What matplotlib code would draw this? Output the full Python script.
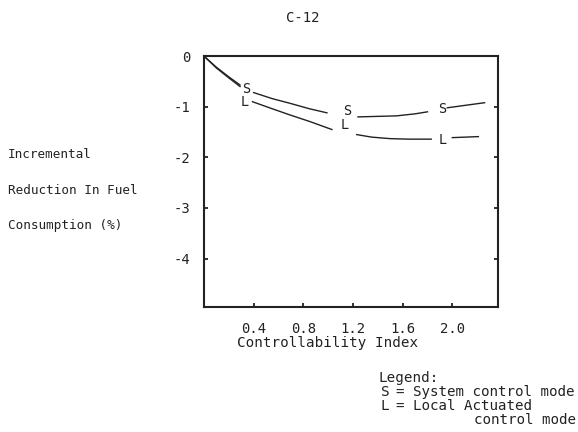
import numpy as np
import matplotlib
matplotlib.use("Agg")
import matplotlib.pyplot as plt

# curve pieces, NaN splits the line where a letter sits
s_x = [0, 0.1, 0.2, 0.29, np.nan,
       0.40, 0.55, 0.69, 0.85, 0.99, np.nan,
       1.24, 1.40, 1.55, 1.70, 1.80, np.nan,
       1.96, 2.26]
s_y = [0, -0.22, -0.41, -0.57, np.nan,
       -0.72, -0.84, -0.93, -1.04, -1.12, np.nan,
       -1.20, -1.19, -1.18, -1.14, -1.10, np.nan,
       -1.02, -0.92]

l_x = [0, 0.1, 0.2, 0.29, np.nan,
       0.39, 0.55, 0.69, 0.85, 1.03, np.nan,
       1.23, 1.35, 1.50, 1.65, 1.83, np.nan,
       2.00, 2.21]
l_y = [0, -0.235, -0.43, -0.60, np.nan,
       -0.90, -1.04, -1.16, -1.29, -1.45, np.nan,
       -1.55, -1.60, -1.63, -1.64, -1.64, np.nan,
       -1.61, -1.59]

# where the S / L letters are written on the curves
s_lab_x = [0.34, 1.15, 1.92]
s_lab_y = [-0.65, -1.08, -1.04]
l_lab_x = [0.33, 1.13, 1.92]
l_lab_y = [-0.91, -1.36, -1.65]

xticks = [0.4, 0.8, 1.2, 1.6, 2.0]
xticklabels = ["0.4", "0.8", "1.2", "1.6", "2.0"]
yticks = [0, -1, -2, -3, -4]
yticklabels = ["0", "-1", "-2", "-3", "-4"]

ink = "#222222"
plt.rcParams["font.family"] = ["DejaVu Sans Mono"]

fig = plt.figure(figsize=(5.78, 4.32), dpi=100)
ax = fig.add_axes([0.353, 0.289, 0.509, 0.581])

ax.plot(s_x, s_y, color=ink, lw=1.0)
ax.plot(l_x, l_y, color=ink, lw=1.0)
for x, y in zip(s_lab_x, s_lab_y):
    ax.text(x, y, "S", ha="center", va="center", fontsize=9.8, color=ink)
for x, y in zip(l_lab_x, l_lab_y):
    ax.text(x, y, "L", ha="center", va="center", fontsize=9.8, color=ink)

ax.set_xlim(0, 2.37)
ax.set_ylim(-4.96, 0)
ax.set_xticks(xticks)
ax.set_xticklabels(xticklabels)
ax.set_yticks(yticks)
ax.set_yticklabels(yticklabels)
ax.tick_params(axis="both", direction="in", length=3, width=1.3,
               colors=ink, labelsize=10)
ax.tick_params(axis="y", right=True, pad=10)
ax.tick_params(axis="x", pad=11)
for sp in ax.spines.values():
    sp.set_linewidth(1.5)
    sp.set_color(ink)

fig.text(303 / 578, 1 - 18 / 432, "C-12", ha="center", va="center",
         fontsize=10, color=ink)
fig.text(328 / 578, 1 - 343 / 432, "Controllability Index", ha="center",
         va="center", fontsize=10.3, color=ink)

ylab = ["Incremental", "Reduction In Fuel", "Consumption (%)"]
ylab_y = [155, 190, 226]
for t, yy in zip(ylab, ylab_y):
    fig.text(8 / 578, 1 - yy / 432, t, ha="left", va="center",
             fontsize=9.1, color=ink)

fig.text(378 / 578, 1 - 378 / 432, "Legend:", ha="left", va="center",
         fontsize=10.3, color=ink)
fig.text(381 / 578, 1 - 392 / 432, "S", ha="left", va="center",
         fontsize=10.3, color=ink)
fig.text(396 / 578, 1 - 392 / 432, "= System control mode", ha="left",
         va="center", fontsize=10.2, color=ink)
fig.text(381 / 578, 1 - 406 / 432, "L", ha="left", va="center",
         fontsize=10.3, color=ink)
fig.text(396 / 578, 1 - 406 / 432, "= Local Actuated", ha="left",
         va="center", fontsize=10.2, color=ink)
fig.text(576 / 578, 1 - 420 / 432, "control mode", ha="right",
         va="center", fontsize=10.2, color=ink)

fig.savefig("out.png", dpi=100)
